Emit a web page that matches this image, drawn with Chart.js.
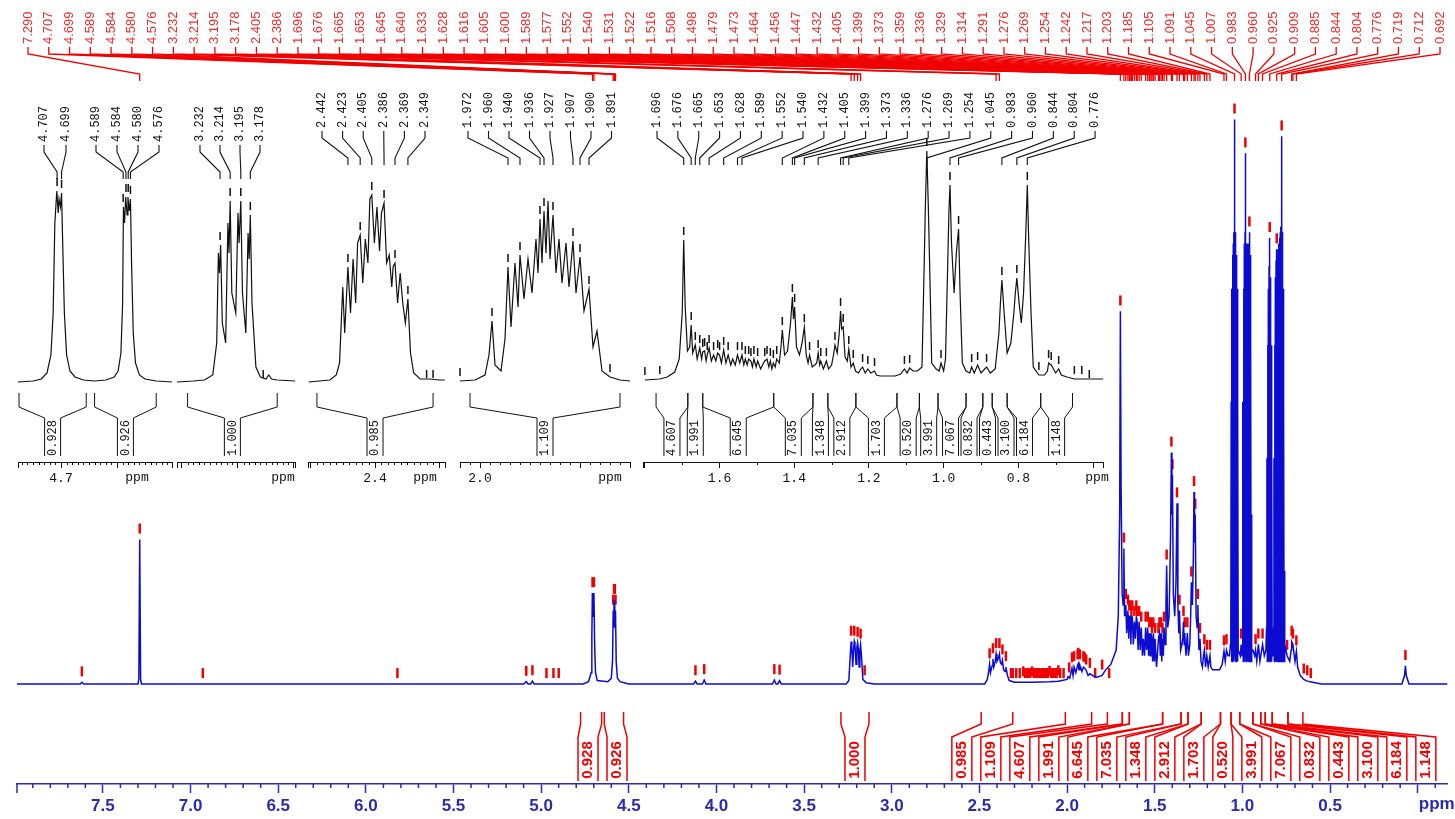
<!DOCTYPE html>
<html>
<head>
<meta charset="utf-8">
<title>1H NMR spectrum</title>
<script src="https://cdn.jsdelivr.net/npm/chart.js@4.4.1/dist/chart.umd.min.js"></script>
<style>
  html, body { margin: 0; padding: 0; background: #ffffff; overflow: hidden; }
  #stage { position: relative; width: 1455px; height: 819px; background: #ffffff; }
  #stage canvas { position: absolute; left: 0; top: 0; }
</style>
</head>
<body>
<div id="stage">
  <canvas id="c0" width="1455" height="819"></canvas>
  <canvas id="c1" width="1455" height="819"></canvas>
  <canvas id="c2" width="1455" height="819"></canvas>
  <canvas id="c3" width="1455" height="819"></canvas>
  <canvas id="c4" width="1455" height="819"></canvas>
  <canvas id="c5" width="1455" height="819"></canvas>
</div>
<script>
// ---------------- full spectrum (ppm, relative intensity) ----------------
const mainPpm = [
  7.99, 7.63, 7.62, 7.61, 7.30, 7.295, 7.290, 7.285, 7.28, 5.10,
  5.085, 5.075, 5.06, 5.05, 5.04, 4.76, 4.73, 4.715, 4.711, 4.708,
  4.704, 4.699, 4.695, 4.69, 4.68, 4.62, 4.60, 4.593, 4.589, 4.586,
  4.584, 4.582, 4.580, 4.578, 4.576, 4.572, 4.565, 4.55, 4.50, 4.13,
  4.12, 4.11, 4.08, 4.07, 4.06, 3.68, 3.67, 3.66, 3.65, 3.64,
  3.63, 3.26, 3.245, 3.236, 3.232, 3.228, 3.223, 3.218, 3.214, 3.210,
  3.204, 3.199, 3.195, 3.191, 3.186, 3.182, 3.178, 3.173, 3.165, 3.155,
  3.145, 3.10, 2.47, 2.455, 2.446, 2.442, 2.437, 2.428, 2.423, 2.418,
  2.41, 2.405, 2.40, 2.392, 2.386, 2.381, 2.374, 2.369, 2.362, 2.354,
  2.349, 2.34, 2.33, 2.30, 2.25, 2.2, 2.1, 2.05, 2.0, 1.994,
  1.985, 1.972, 1.966, 1.960, 1.950, 1.940, 1.936, 1.932, 1.927, 1.915,
  1.907, 1.900, 1.891, 1.88, 1.87, 1.85, 1.83, 1.80, 1.78, 1.75,
  1.72, 1.708, 1.700, 1.696, 1.692, 1.686, 1.680, 1.676, 1.672, 1.665,
  1.660, 1.653, 1.648, 1.645, 1.640, 1.636, 1.633, 1.628, 1.622, 1.616,
  1.610, 1.605, 1.600, 1.595, 1.589, 1.583, 1.577, 1.570, 1.565, 1.558,
  1.552, 1.546, 1.540, 1.535, 1.531, 1.526, 1.522, 1.516, 1.512, 1.508,
  1.502, 1.498, 1.490, 1.485, 1.479, 1.473, 1.468, 1.464, 1.460, 1.456,
  1.451, 1.447, 1.440, 1.436, 1.432, 1.426, 1.418, 1.410, 1.405, 1.402,
  1.399, 1.394, 1.386, 1.379, 1.373, 1.368, 1.363, 1.359, 1.352, 1.345,
  1.340, 1.336, 1.332, 1.329, 1.322, 1.318, 1.314, 1.308, 1.300, 1.295,
  1.291, 1.285, 1.280, 1.276, 1.273, 1.269, 1.264, 1.258, 1.254, 1.248,
  1.242, 1.236, 1.228, 1.222, 1.217, 1.210, 1.203, 1.195, 1.185, 1.180,
  1.170, 1.150, 1.130, 1.115, 1.105, 1.098, 1.091, 1.082, 1.074, 1.068,
  1.066, 1.064, 1.062, 1.060, 1.058, 1.056, 1.054, 1.052, 1.050, 1.048,
  1.046, 1.045, 1.044, 1.042, 1.040, 1.038, 1.036, 1.034, 1.032, 1.030,
  1.028, 1.026, 1.024, 1.020, 1.012, 1.007, 1.002, 0.999, 0.997, 0.995,
  0.993, 0.991, 0.989, 0.987, 0.985, 0.984, 0.983, 0.982, 0.980, 0.978,
  0.976, 0.974, 0.972, 0.970, 0.968, 0.966, 0.964, 0.962, 0.960, 0.958,
  0.956, 0.954, 0.952, 0.950, 0.948, 0.946, 0.940, 0.930, 0.925, 0.918,
  0.909, 0.900, 0.885, 0.875, 0.866, 0.862, 0.860, 0.858, 0.856, 0.854,
  0.852, 0.850, 0.848, 0.846, 0.844, 0.842, 0.840, 0.838, 0.836, 0.834,
  0.832, 0.830, 0.826, 0.822, 0.820, 0.818, 0.816, 0.814, 0.812, 0.810,
  0.808, 0.806, 0.804, 0.802, 0.800, 0.798, 0.796, 0.794, 0.792, 0.790,
  0.788, 0.786, 0.784, 0.782, 0.780, 0.778, 0.776, 0.774, 0.772, 0.770,
  0.768, 0.766, 0.764, 0.762, 0.760, 0.757, 0.745, 0.730, 0.722, 0.719,
  0.712, 0.700, 0.692, 0.685, 0.670, 0.650, 0.630, 0.600, 0.550, 0.090,
  0.075, 0.070, 0.065, 0.050, -0.17
];
const mainInt = [
  0, 0, 0.3, 0, 0, 0.8, 25.6, 0.8, 0, 0,
  0.4, 0, 0, 0.5, 0, 0, 0.4, 2, 8, 16.1,
  12, 16.1, 7, 2, 0.6, 0.4, 1, 4, 13, 10,
  14.9, 12, 14.9, 10, 13, 4, 1, 0.4, 0, 0,
  0.5, 0, 0, 0.7, 0, 0, 0.7, 0, 0, 0.6,
  0, 0, 0.6, 5.5, 7.5, 6.5, 3, 6, 7.5, 6.8,
  3.5, 6.5, 7.3, 6.2, 3, 6, 7.0, 5, 0.8, 0.5,
  0.2, 0, 0, 0.8, 2.5, 3.5, 2, 3.2, 4.4, 3,
  4, 5.3, 4, 4.5, 5.3, 3.8, 3.5, 4.2, 2.5, 2.2,
  3.0, 1.5, 0.6, 0.3, 0.3, 0.3, 0.4, 0.5, 0.8, 1.3,
  1, 2.8, 1.5, 3.0, 2, 3.3, 3.6, 2.5, 3.3, 2.2,
  3.0, 2.8, 2.4, 1.5, 1.8, 1.4, 1.2, 1.5, 2.5, 3.5,
  6, 12, 30, 66, 35, 16, 14, 24, 12, 14,
  9, 13, 8, 12, 12, 7, 11, 12, 7, 11,
  8, 12, 11, 6, 11, 6, 10, 5, 8, 5,
  10, 6, 10, 5, 9, 5, 9, 8, 4, 9,
  4, 8, 3, 5, 8, 9, 5, 9, 4, 8,
  5, 10, 7, 14, 21, 10, 12, 26, 41, 30,
  37, 16, 12, 18, 32, 14, 9, 13, 6, 7,
  8, 11, 7, 9, 5, 7, 9, 5, 7, 12,
  18, 14, 22, 34, 25, 30, 12, 10, 14, 6,
  8, 4, 3, 5, 6, 3, 5, 3, 5, 3,
  2.5, 2.5, 2.5, 3.5, 5.8, 4, 6, 5, 5, 7,
  8, 50, 4, 70, 4, 76, 4, 78, 4, 80,
  5, 100, 5, 80, 4, 78, 4, 76, 4, 70,
  4, 50, 6, 6, 5, 7, 5, 6, 50, 4,
  70, 4, 78, 4, 80, 5, 94, 5, 80, 4,
  78, 4, 76, 4, 78, 4, 78, 4, 80, 4,
  76, 4, 60, 4, 30, 6, 6, 5, 6, 4,
  7, 4, 7, 5, 6, 10, 40, 4, 60, 4,
  70, 4, 74, 4, 79, 4, 72, 4, 60, 4,
  40, 5, 10, 8, 40, 4, 60, 4, 72, 4,
  75, 4, 77, 4, 76, 4, 77, 4, 78, 4,
  79, 4, 80, 4, 81, 4, 97, 4, 80, 4,
  70, 4, 50, 4, 20, 7, 5, 4, 6, 7.5,
  7, 4, 5.8, 3, 1.5, 0.8, 0.5, 0.3, 0, 0,
  1.5, 3.2, 1.5, 0, 0
];

// peak positions printed along the top edge
const peakLabelPpm = [
  7.290, 4.707, 4.699, 4.589, 4.584, 4.580, 4.576, 3.232, 3.214, 3.195,
  3.178, 2.405, 2.386, 1.696, 1.676, 1.665, 1.653, 1.645, 1.640, 1.633,
  1.628, 1.616, 1.605, 1.600, 1.589, 1.577, 1.552, 1.540, 1.531, 1.522,
  1.516, 1.508, 1.498, 1.479, 1.473, 1.464, 1.456, 1.447, 1.432, 1.405,
  1.399, 1.373, 1.359, 1.336, 1.329, 1.314, 1.291, 1.276, 1.269, 1.254,
  1.242, 1.217, 1.203, 1.185, 1.105, 1.091, 1.045, 1.007, 0.983, 0.960,
  0.925, 0.909, 0.885, 0.844, 0.804, 0.776, 0.719, 0.712, 0.692
];
// further picked peaks (marked, not labelled)
const extraPickPpm = [
  7.62, 6.93, 5.82, 5.085, 5.05, 4.97, 4.93, 4.90, 4.12, 4.07,
  3.67, 3.64, 3.155, 2.32, 2.31, 2.29, 2.27, 2.25, 2.24, 2.23,
  2.22, 2.21, 2.20, 2.19, 2.18, 2.17, 2.16, 2.15, 2.14, 2.13,
  2.12, 2.11, 2.10, 2.09, 2.08, 2.07, 2.06, 2.05, 2.04, 2.02,
  1.988, 1.87, 1.84, 1.80, 1.76, 0.745, 0.65, 0.63, 0.61, 0.07
];

// integrals: region limits (ppm) and normalised areas
const integralFrom  = [4.775, 4.64, 3.29, 2.49, 2.01, 1.77, 1.685, 1.645, 1.455, 1.35, 1.31, 1.235, 1.125, 1.065, 1.015, 0.94, 0.895, 0.87, 0.83, 0.74];
const integralTo    = [4.655, 4.53, 3.13, 2.31, 1.86, 1.685, 1.645, 1.455, 1.35, 1.31, 1.235, 1.125, 1.065, 1.015, 0.94, 0.895, 0.87, 0.83, 0.74, 0.655];
const integralValue = [0.928, 0.926, 1.000, 0.985, 1.109, 4.607, 1.991, 6.645, 7.035, 1.348, 2.912, 1.703, 0.520, 3.991, 7.067, 0.832, 0.443, 3.100, 6.184, 1.148];

const mainAxisLabels = ['7.5', '7.0', '6.5', '6.0', '5.5', '5.0', '4.5', '4.0', '3.5', '3.0', '2.5', '2.0', '1.5', '1.0', '0.5'];

// ---------------- expansions ----------------
const inset1Ppm = [4.777, 4.750, 4.735, 4.725, 4.718, 4.714, 4.711, 4.7075, 4.705, 4.7035,
                   4.701, 4.699, 4.697, 4.694, 4.690, 4.684, 4.675, 4.660, 4.640, 4.620,
                   4.605, 4.598, 4.593, 4.590, 4.5885, 4.5865, 4.5845, 4.582, 4.5805, 4.578,
                   4.576, 4.574, 4.571, 4.567, 4.560, 4.550, 4.530, 4.502];
const inset1Int = [0.5, 1, 2, 5, 14, 35, 80, 96, 85, 92,
                   88, 95, 70, 35, 14, 6, 3, 1.5, 1, 1.5,
                   3, 6, 15, 40, 88, 80, 93, 84, 93, 86,
                   92, 60, 25, 10, 4, 2, 1, 0.5];
const inset1LabelsA = [4.707, 4.699];
const inset1LabelsB = [4.589, 4.584, 4.580, 4.576];
const inset1AxisLabels = ['4.7'];

const inset2Ppm = [3.309, 3.280, 3.260, 3.245, 3.238, 3.235, 3.233, 3.231, 3.228, 3.222,
                   3.218, 3.216, 3.214, 3.211, 3.204, 3.200, 3.198, 3.195, 3.192, 3.186,
                   3.182, 3.180, 3.178, 3.175, 3.168, 3.160, 3.150, 3.145, 3.140, 3.130, 3.098];
const inset2Int = [0.5, 1, 1.5, 4, 20, 65, 55, 69, 30, 20,
                   80, 65, 91, 45, 35, 85, 70, 91, 45, 25,
                   75, 62, 84, 40, 8, 3, 2, 4, 2, 1.5, 1];
const inset2Labels = [3.232, 3.214, 3.195, 3.178];
const inset2AxisLabels = [];

const inset3Ppm = [2.503, 2.470, 2.460, 2.455, 2.450, 2.447, 2.442, 2.438, 2.434, 2.430,
                   2.427, 2.423, 2.419, 2.415, 2.411, 2.408, 2.405, 2.401, 2.397, 2.393,
                   2.390, 2.386, 2.382, 2.378, 2.374, 2.372, 2.369, 2.365, 2.361, 2.357,
                   2.353, 2.349, 2.345, 2.340, 2.330, 2.316, 2.300, 2.292];
const inset3Int = [0.5, 1.5, 4, 10, 48, 25, 58, 35, 62, 40,
                   70, 74, 50, 72, 60, 92, 94, 70, 88, 66,
                   85, 90, 60, 64, 48, 58, 60, 40, 55, 40,
                   30, 42, 15, 5, 2, 2, 1.5, 1.5];
const inset3Labels = [2.442, 2.423, 2.405, 2.386, 2.369, 2.349];
const inset3AxisLabels = ['2.4'];

const inset4Ppm = [2.020, 2.005, 1.995, 1.991, 1.988, 1.985, 1.979, 1.975, 1.972, 1.969,
                   1.965, 1.962, 1.960, 1.956, 1.952, 1.948, 1.944, 1.942, 1.940, 1.938,
                   1.936, 1.934, 1.932, 1.930, 1.927, 1.924, 1.921, 1.918, 1.914, 1.911,
                   1.907, 1.904, 1.900, 1.896, 1.891, 1.887, 1.883, 1.878, 1.870, 1.860, 1.850];
const inset4Int = [1, 1.5, 4, 14, 31, 9, 6, 22, 58, 28,
                   60, 38, 64, 42, 62, 45, 72, 55, 82, 60,
                   86, 65, 91, 62, 84, 55, 72, 50, 70, 48,
                   71, 45, 63, 36, 47, 18, 26, 6, 3, 1.5, 1];
const inset4Labels = [1.972, 1.960, 1.940, 1.936, 1.927, 1.907, 1.900, 1.891];
const inset4AxisLabels = ['2.0'];

const inset5Ppm = [
  1.800, 1.760, 1.740, 1.720, 1.708, 1.700, 1.696, 1.692, 1.686, 1.680,
  1.676, 1.672, 1.665, 1.660, 1.653, 1.648, 1.645, 1.640, 1.636, 1.633,
  1.628, 1.622, 1.616, 1.610, 1.605, 1.600, 1.595, 1.589, 1.583, 1.577,
  1.570, 1.565, 1.558, 1.552, 1.546, 1.540, 1.535, 1.531, 1.526, 1.522,
  1.516, 1.512, 1.508, 1.502, 1.498, 1.490, 1.485, 1.479, 1.473, 1.468,
  1.464, 1.460, 1.456, 1.451, 1.447, 1.440, 1.436, 1.432, 1.426, 1.418,
  1.410, 1.405, 1.402, 1.399, 1.394, 1.386, 1.379, 1.373, 1.368, 1.363,
  1.359, 1.352, 1.345, 1.340, 1.336, 1.332, 1.329, 1.322, 1.318, 1.314,
  1.308, 1.300, 1.295, 1.291, 1.285, 1.280, 1.276, 1.273, 1.269, 1.264,
  1.258, 1.254, 1.248, 1.242, 1.236, 1.228, 1.222, 1.217, 1.210, 1.203,
  1.195, 1.185, 1.180, 1.170, 1.150, 1.130, 1.115, 1.105, 1.098, 1.091,
  1.082, 1.070, 1.058, 1.052, 1.049, 1.045, 1.041, 1.037, 1.032, 1.020,
  1.012, 1.007, 1.000, 0.995, 0.989, 0.986, 0.983, 0.979, 0.972, 0.966,
  0.960, 0.956, 0.950, 0.940, 0.930, 0.925, 0.918, 0.909, 0.900, 0.885,
  0.875, 0.862, 0.852, 0.848, 0.844, 0.838, 0.830, 0.820, 0.812, 0.808,
  0.804, 0.798, 0.792, 0.786, 0.780, 0.776, 0.772, 0.766, 0.760, 0.745,
  0.730, 0.722, 0.719, 0.712, 0.700, 0.692, 0.685, 0.670, 0.650, 0.630,
  0.600, 0.573
];
const inset5Int = [
  1.5, 2, 3, 5.5, 12, 35, 71.5, 38, 16, 18,
  29, 15, 19, 12, 17.5, 12, 15.5, 16, 11, 14,
  17.5, 11, 14, 11, 15, 14, 10, 16.5, 10, 14,
  9, 12, 9, 14, 10, 14, 9, 12, 9, 12,
  11, 8, 12, 8, 11, 7, 9, 11, 12, 8,
  11, 7, 10, 8, 12, 10, 17, 26.5, 14, 16,
  30, 43, 32, 38, 18, 14, 20, 28, 14, 10,
  14, 8, 9, 10, 15, 9, 11, 7, 9, 11,
  7, 9, 14, 19, 15, 24, 36, 27, 28, 13,
  11, 17, 8, 10, 6, 5, 7, 8, 5, 7,
  5, 6, 4, 3.5, 3.5, 3.5, 4.5, 7, 5, 7.5,
  6, 6, 8, 60, 88, 116, 88, 55, 10, 7,
  6, 10, 6, 12, 60, 85, 99, 70, 45, 65,
  77, 45, 10, 6, 5, 8, 5, 9, 5, 8,
  5, 7, 25, 40, 51.5, 35, 15, 20, 35, 45,
  52.5, 40, 30, 45, 75, 99, 70, 35, 8, 4,
  4, 6, 10, 9, 5, 7, 4, 3, 2, 2,
  2, 2
];
const inset5Labels = [1.696, 1.676, 1.665, 1.653, 1.628, 1.589, 1.552, 1.540, 1.432, 1.405, 1.399,
                      1.373, 1.336, 1.276, 1.269, 1.254, 1.045, 0.983, 0.960, 0.844, 0.804, 0.776];
const inset5AxisLabels = ['1.6', '1.4', '1.2', '1.0', '0.8'];

// ---------------- styling ----------------
const SPEC_BLUE = '#0b0bd2';
const AXIS_BLUE = '#2a2ab2';
const RED = '#f00000';
const LABEL_RED = '#ee2b2b';
const INK = '#111111';
const SANS = "'Liberation Sans', Arial, sans-serif";
const MONO = "'Liberation Mono', 'DejaVu Sans Mono', monospace";

const allPicks = Array.from(new Set([].concat(peakLabelPpm, inset1LabelsA, inset1LabelsB, inset2Labels,
  inset3Labels, inset4Labels, inset5Labels, extraPickPpm)));

const integrals = integralFrom.map((f, i) => ({ from: f, to: integralTo[i], val: integralValue[i] }));

// highest sampled intensity within a narrow window around a peak position
function peakTop(ppmArr, intArr, p) {
  let m = 0;
  for (let i = 0; i < ppmArr.length; i++) {
    if (Math.abs(ppmArr[i] - p) <= 0.0035) m = Math.max(m, intArr[i]);
  }
  return m;
}

// keep text boxes apart: overlapping neighbours are packed around their mean
function spreadPositions(xs, gap) {
  const order = xs.map((x, i) => i).sort((a, b) => xs[a] - xs[b]);
  const clusters = [];
  for (const i of order) {
    clusters.push({ idx: [i], sum: xs[i] });
    while (clusters.length > 1) {
      const b = clusters[clusters.length - 1], a = clusters[clusters.length - 2];
      const aEnd = a.sum / a.idx.length + (a.idx.length - 1) / 2 * gap;
      const bStart = b.sum / b.idx.length - (b.idx.length - 1) / 2 * gap;
      if (bStart - aEnd < gap) { a.idx = a.idx.concat(b.idx); a.sum += b.sum; clusters.pop(); }
      else break;
    }
  }
  const out = new Array(xs.length);
  clusters.forEach(c => {
    const n = c.idx.length, m = c.sum / n;
    c.idx.forEach((i, k) => { out[i] = m + (k - (n - 1) / 2) * gap; });
  });
  return out;
}

function vText(ctx, text, x, yBottom) {
  ctx.save();
  ctx.translate(x, yBottom);
  ctx.rotate(-Math.PI / 2);
  ctx.textAlign = 'left';
  ctx.textBaseline = 'middle';
  ctx.fillText(text, 0, 0);
  ctx.restore();
}
function vTextCenter(ctx, text, x, yCenter) {
  ctx.save();
  ctx.translate(x, yCenter);
  ctx.rotate(-Math.PI / 2);
  ctx.textAlign = 'center';
  ctx.textBaseline = 'middle';
  ctx.fillText(text, 0, 0);
  ctx.restore();
}

// rotated peak labels with their leader lines
function drawLeaders(ctx, xs, ppms, labelXs, g) {
  ppms.forEach((p, i) => {
    const lx = labelXs[i];
    const px = xs.getPixelForValue(p);
    vText(ctx, p.toFixed(3), lx, g.textBottom);
    ctx.beginPath();
    ctx.moveTo(lx, g.textBottom + 3);
    ctx.lineTo(lx, g.textBottom + 10);
    ctx.lineTo(px, g.textBottom + 30);
    ctx.lineTo(px, g.textBottom + 37);
    ctx.stroke();
  });
}

// integral brackets with their rotated values
function drawIntegrals(ctx, xs, list, g) {
  const centers = list.map(it => (xs.getPixelForValue(it.from) + xs.getPixelForValue(it.to)) / 2);
  const pos = spreadPositions(centers, g.gap);
  list.forEach((it, i) => {
    const xa = xs.getPixelForValue(it.from), xb = xs.getPixelForValue(it.to);
    const l = Math.min(xa, xb), r = Math.max(xa, xb);
    const c = pos[i], sl = c - g.half, sr = c + g.half;
    ctx.beginPath();
    ctx.moveTo(l, g.yTop); ctx.lineTo(l, g.yKnee); ctx.lineTo(sl, g.yStem); ctx.lineTo(sl, g.yBottom);
    ctx.moveTo(r, g.yTop); ctx.lineTo(r, g.yKnee); ctx.lineTo(sr, g.yStem); ctx.lineTo(sr, g.yBottom);
    ctx.stroke();
    vTextCenter(ctx, it.val.toFixed(3), c, (g.yStem + g.yBottom) / 2 + 1);
  });
}

// ---------------- full spectrum chart ----------------
const mainOverlay = {
  id: 'mainOverlay',
  afterDraw(chart) {
    const ctx = chart.ctx, xs = chart.scales.x, axisY = chart.chartArea.bottom;
    ctx.save();
    // minor ticks every 0.1 ppm
    ctx.strokeStyle = AXIS_BLUE; ctx.lineWidth = 1.5;
    ctx.beginPath();
    for (let k = Math.ceil(xs.min * 10); k <= Math.floor(xs.max * 10); k++) {
      if (k % 5 === 0) continue;
      const x = xs.getPixelForValue(k / 10);
      ctx.moveTo(x, axisY); ctx.lineTo(x, axisY + 4);
    }
    const xl = xs.getPixelForValue(xs.max);
    ctx.moveTo(xl, axisY); ctx.lineTo(xl, axisY + 9);
    ctx.stroke();
    ctx.fillStyle = AXIS_BLUE; ctx.font = 'bold 17px ' + SANS;
    ctx.textAlign = 'center'; ctx.textBaseline = 'top';
    ctx.fillText('ppm', xs.getPixelForValue(0) + 19, axisY + 12);

    // peak list along the top
    ctx.font = '13px ' + SANS; ctx.fillStyle = LABEL_RED; ctx.strokeStyle = RED; ctx.lineWidth = 1.3;
    const n = peakLabelPpm.length, x0 = 28, x1 = 1440;
    const lxs = peakLabelPpm.map((p, i) => x0 + i * (x1 - x0) / (n - 1));
    drawLeaders(ctx, xs, peakLabelPpm, lxs, { textBottom: 44 });

    // integrals
    ctx.strokeStyle = RED; ctx.fillStyle = RED; ctx.lineWidth = 1.5;
    ctx.font = 'bold 15px ' + SANS;
    drawIntegrals(ctx, xs, integrals, { yTop: 712, yKnee: 724, yStem: 737, yBottom: 781, half: 10, gap: 29 });
    ctx.restore();
  }
};

const mainMarkers = allPicks.map(p => ({ x: p, y: peakTop(mainPpm, mainInt, p) + 1.93 }));

new Chart(document.getElementById('c0'), {
  type: 'line',
  data: {
    datasets: [
      { data: mainPpm.map((p, i) => ({ x: p, y: mainInt[i] })), borderColor: SPEC_BLUE, borderWidth: 1.5,
        pointRadius: 0, tension: 0, fill: false },
      { data: mainMarkers, showLine: false, pointStyle: 'line', pointRotation: 90, pointRadius: 5,
        pointBorderColor: RED, pointBackgroundColor: RED, pointBorderWidth: 2.5, clip: false }
    ]
  },
  options: {
    responsive: false, animation: false, devicePixelRatio: 1, events: [],
    layout: { padding: { left: 17, right: 0, top: 0, bottom: 0 } },
    plugins: { legend: { display: false }, tooltip: { enabled: false } },
    scales: {
      x: {
        type: 'linear', reverse: true, min: -0.17, max: 7.99,
        afterFit: s => { s.height = 35; s.paddingLeft = 0; s.paddingRight = 0; },
        ticks: {
          stepSize: 0.5, includeBounds: false, autoSkip: false, maxRotation: 0, minRotation: 0, padding: 3,
          color: AXIS_BLUE, font: { family: SANS, size: 17, weight: 'bold' },
          callback: v => { const s = (Math.round(v * 10) / 10).toFixed(1); return mainAxisLabels.includes(s) ? s : ''; }
        },
        grid: { drawOnChartArea: false, drawTicks: true, tickLength: 9, tickColor: AXIS_BLUE, tickWidth: 1.5 },
        border: { display: true, color: AXIS_BLUE, width: 1.5 }
      },
      y: { display: false, min: -17.72, max: 119.82 }
    }
  },
  plugins: [mainOverlay]
});

// ---------------- expansion charts ----------------
const insets = [
  { canvas: 'c1', left: 18, right: 172, ppmMin: 4.5018, ppmMax: 4.7768, major: 0.1, minor: 0.01,
    ppm: inset1Ppm, int: inset1Int, axisLabels: inset1AxisLabels, ppmDx: -35, textBottom: 142,
    groups: [{ ppm: inset1LabelsA, x0: 44, gap: 22 }, { ppm: inset1LabelsB, x0: 96, gap: 21 }] },
  { canvas: 'c2', left: 177, right: 295, ppmMin: 3.0982, ppmMax: 3.3089, major: 0.1, minor: 0.01,
    ppm: inset2Ppm, int: inset2Int, axisLabels: inset2AxisLabels, ppmDx: -12, textBottom: 142,
    groups: [{ ppm: inset2Labels, x0: 200, gap: 20 }] },
  { canvas: 'c3', left: 308, right: 445, ppmMin: 2.2915, ppmMax: 2.5039, major: 0.1, minor: 0.01,
    ppm: inset3Ppm, int: inset3Int, axisLabels: inset3AxisLabels, ppmDx: -20, textBottom: 128,
    groups: [{ ppm: inset3Labels, x0: 322, gap: 20.6 }] },
  { canvas: 'c4', left: 460, right: 630, ppmMin: 1.85, ppmMax: 2.02, major: 0.1, minor: 0.01,
    ppm: inset4Ppm, int: inset4Int, axisLabels: inset4AxisLabels, ppmDx: -20, textBottom: 128,
    groups: [{ ppm: inset4Labels, x0: 468, gap: 20.5 }] },
  { canvas: 'c5', left: 643, right: 1103, ppmMin: 0.5733, ppmMax: 1.805, major: 0.2, minor: 0.1,
    ppm: inset5Ppm, int: inset5Int, axisLabels: inset5AxisLabels, ppmDx: -6, textBottom: 128,
    groups: [{ ppm: inset5Labels, x0: 657, gap: 20.86 }] }
];

function insetOverlay(spec) {
  return {
    id: 'overlay_' + spec.canvas,
    afterDraw(chart) {
      const ctx = chart.ctx, xs = chart.scales.x, axisY = chart.chartArea.bottom;
      ctx.save();
      ctx.strokeStyle = INK; ctx.fillStyle = INK; ctx.lineWidth = 1;
      // minor ticks and the two end ticks
      ctx.beginPath();
      const k0 = Math.ceil(spec.ppmMin / spec.minor - 1e-6), k1 = Math.floor(spec.ppmMax / spec.minor + 1e-6);
      for (let k = k0; k <= k1; k++) {
        const v = k * spec.minor;
        if (Math.abs(v / spec.major - Math.round(v / spec.major)) < 1e-6) continue;
        const x = Math.round(xs.getPixelForValue(v)) + 0.5;
        ctx.moveTo(x, axisY); ctx.lineTo(x, axisY + 3);
      }
      [xs.left, xs.right].forEach(x => { ctx.moveTo(Math.round(x) + 0.5, axisY); ctx.lineTo(Math.round(x) + 0.5, axisY + 6); });
      ctx.stroke();
      ctx.font = '13px ' + MONO; ctx.textAlign = 'center'; ctx.textBaseline = 'top';
      ctx.fillText('ppm', xs.right + spec.ppmDx, axisY + 9);

      // peak labels
      ctx.font = '12px ' + MONO; ctx.lineWidth = 1.1;
      spec.groups.forEach(gr => {
        const lxs = gr.ppm.map((p, i) => gr.x0 + i * gr.gap);
        drawLeaders(ctx, xs, gr.ppm, lxs, { textBottom: spec.textBottom });
      });

      // integrals inside this window
      const list = integrals.filter(it => it.from <= spec.ppmMax + 0.005 && it.to >= spec.ppmMin - 0.005);
      ctx.lineWidth = 1; ctx.font = '12px ' + MONO;
      drawIntegrals(ctx, xs, list, { yTop: 393, yKnee: 407, yStem: 418, yBottom: 456, half: 8, gap: 18.5 });
      ctx.restore();
    }
  };
}

insets.forEach(spec => {
  const picks = allPicks.filter(p => p <= spec.ppmMax && p >= spec.ppmMin)
    .map(p => ({ x: p, y: peakTop(spec.ppm, spec.int, p) + 4.5 }));
  new Chart(document.getElementById(spec.canvas), {
    type: 'line',
    data: {
      datasets: [
        { data: spec.ppm.map((p, i) => ({ x: p, y: spec.int[i] })), borderColor: INK, borderWidth: 1.2,
          pointRadius: 0, tension: 0, fill: false, clip: false },
        { data: picks, showLine: false, pointStyle: 'line', pointRotation: 90, pointRadius: 4,
          pointBorderColor: INK, pointBackgroundColor: INK, pointBorderWidth: 1.5, clip: false }
      ]
    },
    options: {
      responsive: false, animation: false, devicePixelRatio: 1, events: [],
      layout: { padding: { left: spec.left, right: 1455 - spec.right, top: 140, bottom: 324 } },
      plugins: { legend: { display: false }, tooltip: { enabled: false } },
      scales: {
        x: {
          type: 'linear', reverse: true, min: spec.ppmMin, max: spec.ppmMax,
          afterFit: s => { s.height = 33; s.paddingLeft = 0; s.paddingRight = 0; },
          ticks: {
            stepSize: spec.major, includeBounds: false, autoSkip: false, maxRotation: 0, minRotation: 0, padding: 3,
            color: INK, font: { family: MONO, size: 13 },
            callback: v => { const s = (Math.round(v * 10) / 10).toFixed(1); return spec.axisLabels.includes(s) ? s : ''; }
          },
          grid: { drawOnChartArea: false, drawTicks: true, tickLength: 6, tickColor: INK, tickWidth: 1 },
          border: { display: true, color: INK, width: 1 }
        },
        y: { display: false, min: -39.5, max: 121.5 }
      }
    },
    plugins: [insetOverlay(spec)]
  });
});
</script>
</body>
</html>
